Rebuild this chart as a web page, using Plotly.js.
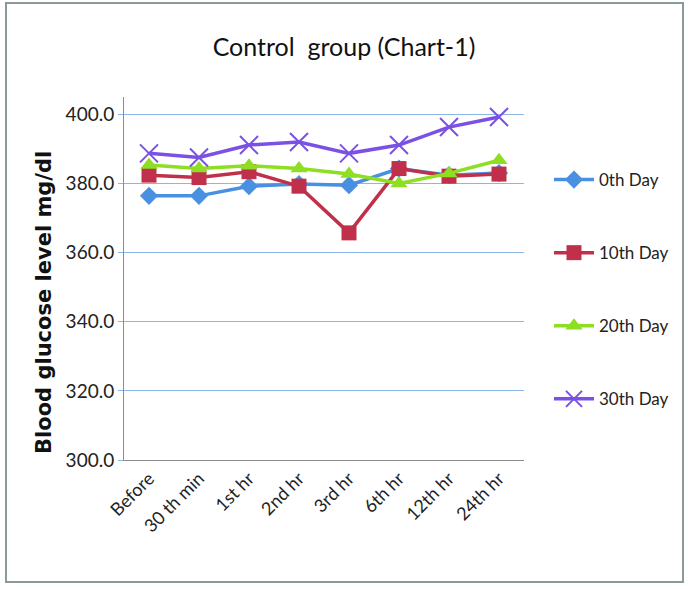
<!DOCTYPE html>
<html>
<head>
<meta charset="utf-8">
<script src="https://cdn.plot.ly/plotly-3.0.1.min.js"></script>
<style>
html,body{margin:0;padding:0;background:#fff;}
#chart{width:688px;height:589px;}
</style>
</head>
<body>
<div id="chart"></div>
<script>
const categories = ["Before", "30 th min", "1st hr", "2nd hr", "3rd hr", "6th hr", "12th hr", "24th hr"];
const day0  = [376.4, 376.4, 379.2, 379.8, 379.5, 384.3, 382.4, 383.0];
const day10 = [382.4, 381.7, 383.4, 379.2, 365.7, 384.3, 382.1, 382.7];
const day20 = [385.3, 384.3, 385.1, 384.3, 382.7, 380.0, 382.9, 386.7];
const day30 = [388.7, 387.5, 391.1, 392.0, 388.7, 391.1, 396.3, 399.2];
const seriesNames = ["0th Day", "10th Day", "20th Day", "30th Day"];
const yTicks = [300, 320, 340, 360, 380, 400];

const font = "Lato, 'Open Sans', sans-serif";
const colors = ["#4a90e2", "#c0304a", "#8ede22", "#7b50e4"];
const symbols = ["diamond", "square", "triangle-up", "x-thin-open"];
const sizes = [14, 15, 15, 18];
const allData = [day0, day10, day20, day30];

const traces = allData.map((vals, i) => ({
  type: "scatter",
  mode: "lines+markers",
  x: categories,
  y: vals,
  name: seriesNames[i],
  legendgroup: "g" + i,
  line: {color: colors[i], width: 3.5},
  marker: {
    symbol: symbols[i],
    size: sizes[i],
    color: colors[i],
    line: {color: colors[i], width: i === 3 ? 2 : 0}
  }
}));

const L = 124, R = 164, T = 97, B = 129;
const PW = 688 - L - R, PH = 589 - T - B;
const px = x => (x - L) / PW;
const py = y => (589 - B - y) / PH;

const layout = {
  width: 688, height: 589,
  margin: {l: L, r: R, t: T, b: B},
  paper_bgcolor: "#fff",
  plot_bgcolor: "#fff",
  font: {family: font, size: 14, color: "#222"},
  title: {
    text: "Control\u00a0 group (Chart-1)",
    font: {family: font, size: 25, color: "#111"},
    x: 0.5, xanchor: "center", y: 1 - 47/589, yanchor: "middle"
  },
  showlegend: true,
  legend: {
    x: px(549), xanchor: "left", y: py(162), yanchor: "top",
    font: {family: font, size: 17, color: "#222"},
    tracegroupgap: 48,
    itemwidth: 40,
    bgcolor: "rgba(0,0,0,0)"
  },
  xaxis: {
    type: "category",
    range: [-0.5, 7.5],
    tickangle: -45,
    tickfont: {family: font, size: 18, color: "#222"},
    showgrid: false,
    showline: true, linecolor: "#8c8c8c", linewidth: 1,
    ticks: "", zeroline: false,
    fixedrange: true
  },
  yaxis: {
    range: [300, 405],
    tickvals: yTicks,
    tickformat: ".1f",
    tickfont: {family: font, size: 19, color: "#222"},
    showgrid: true, gridcolor: "#8db6e8", gridwidth: 1,
    showline: true, linecolor: "#8c8c8c", linewidth: 1,
    ticks: "outside", ticklen: 5, tickcolor: "#8db6e8",
    zeroline: false,
    fixedrange: true
  },
  annotations: [{
    text: "<b>Blood glucose level mg/dl</b>",
    xref: "paper", yref: "paper",
    x: px(44), y: py(303),
    xanchor: "center", yanchor: "middle",
    textangle: -90, showarrow: false,
    font: {family: "'DejaVu Sans', sans-serif", size: 21, color: "#111"}
  }],
  shapes: [{
    type: "rect", xref: "paper", yref: "paper",
    x0: px(6), x1: px(683), y0: py(582), y1: py(3),
    line: {color: "#8a9a9a", width: 2}
  }]
};

Plotly.newPlot("chart", traces, layout, {displayModeBar: false, staticPlot: true});
</script>
</body>
</html>
